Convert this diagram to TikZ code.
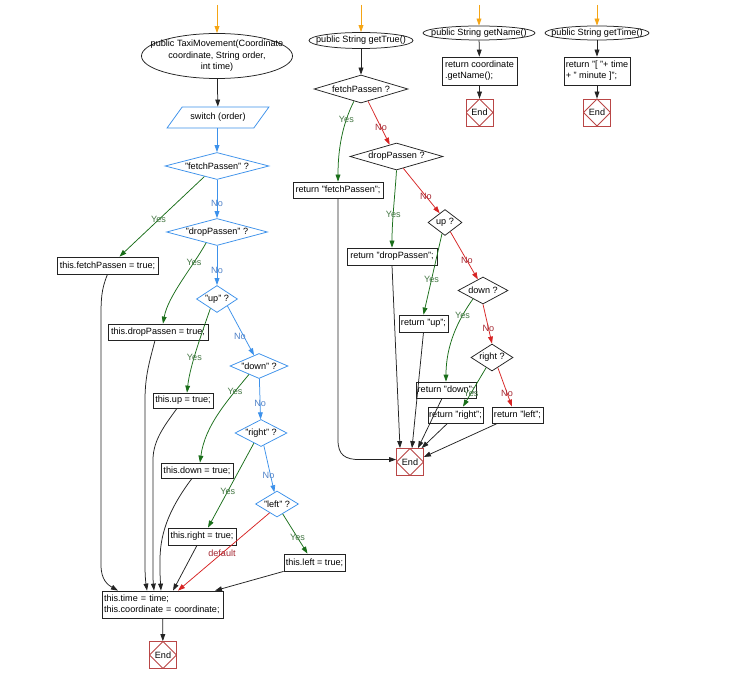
\documentclass[tikz,border=0pt]{standalone}
\usepackage{fontspec}
\setmainfont{Liberation Sans}
\usetikzlibrary{arrows.meta,shapes.geometric}

\definecolor{flowblue}{RGB}{60,145,235}
\definecolor{flowgreen}{RGB}{25,110,25}
\definecolor{flowred}{RGB}{215,35,35}
\definecolor{startorange}{RGB}{245,165,20}
\definecolor{endred}{RGB}{185,70,70}
\definecolor{yestext}{RGB}{70,120,70}
\definecolor{notextblue}{RGB}{80,130,200}
\definecolor{notextred}{RGB}{165,40,50}
\definecolor{linegray}{RGB}{35,35,35}

\begin{document}
\begin{tikzpicture}[x=1pt,y=-1pt,
  every node/.style={font=\fontsize{9.1}{11.5}\selectfont, inner sep=1pt},
  arrowtip/.style={-{Triangle[length=7pt,width=4.8pt]}, line width=0.75pt},
  flow/.style={arrowtip, draw=linegray},
  startarrow/.style={arrowtip, draw=startorange},
  blueflow/.style={arrowtip, draw=flowblue},
  greenflow/.style={arrowtip, draw=flowgreen},
  redflow/.style={arrowtip, draw=flowred},
  yeslbl/.style={text=yestext},
  nolblb/.style={text=notextblue},
  nolblr/.style={text=notextred},
  deflbl/.style={text=notextred},
  stmt/.style={rectangle, draw=linegray, line width=0.75pt, fill=white, minimum height=16pt},
  entryoval/.style={ellipse, draw=linegray, line width=0.75pt, fill=white, inner xsep=-20pt, inner ysep=-2pt},
  decbox/.style={diamond, fill=white, line width=0.75pt, inner sep=-0.5pt},
  bluedec/.style={decbox, draw=flowblue},
  blackdec/.style={decbox, draw=linegray},
  iobox/.style={trapezium, trapezium left angle=41, trapezium right angle=139,
    trapezium stretches=true, draw=flowblue, line width=0.75pt, fill=white},
  endbox/.style={rectangle, draw=endred, line width=0.75pt, fill=white,
    minimum size=27pt, inner sep=0pt,
    path picture={\draw[endred, line width=0.75pt]
      (path picture bounding box.north) -- (path picture bounding box.east) --
      (path picture bounding box.south) -- (path picture bounding box.west) -- cycle;}}
]
\fill[white] (0,0) rectangle (745,679);
\useasboundingbox (0,0) rectangle (745,679);

% ---------- constructor TaxiMovement ----------
\coordinate (s1) at (217,5);
\node[entryoval, minimum width=151pt, minimum height=45pt, align=center] (e1) at (217,56)
  {public TaxiMovement(Coordinate\\coordinate, String order,\\int time)};
\node[iobox, minimum width=102pt, minimum height=21pt] (sw) at (218,117.5) {switch (order)};
\node[bluedec, minimum width=104pt, minimum height=27pt, aspect=3.85] (d1) at (217,166) {"fetchPassen" ?};
\node[bluedec, minimum width=101pt, minimum height=27pt, aspect=3.74] (d2) at (217,232) {"dropPassen" ?};
\node[bluedec, minimum width=41pt, minimum height=27pt, aspect=1.52] (d3) at (217,299) {"up" ?};
\node[bluedec, minimum width=58pt, minimum height=25pt, aspect=2.32] (d4) at (259,366) {"down" ?};
\node[bluedec, minimum width=52pt, minimum height=27pt, aspect=1.93] (d5) at (261,433) {"right" ?};
\node[bluedec, minimum width=43pt, minimum height=26pt, aspect=1.65] (d6) at (277,504) {"left" ?};

\node[stmt, minimum width=101pt, minimum height=17pt] (b1) at (107.5,265.5) {this.fetchPassen = true;};
\node[stmt, minimum width=100pt] (b2) at (158,332) {this.dropPassen = true;};
\node[stmt, minimum width=60pt, minimum height=15pt] (b3) at (183,400.5) {this.up = true;};
\node[stmt, minimum width=72pt, minimum height=15pt] (b4) at (197,470.5) {this.down = true;};
\node[stmt, minimum width=68pt, minimum height=17pt] (b5) at (202,536.5) {this.right = true;};
\node[stmt, minimum width=61pt, minimum height=17pt] (b6) at (314.5,562.5) {this.left = true;};
\node[stmt, minimum width=121pt, minimum height=27pt, text width=117pt, align=left,
  font=\fontsize{9.1}{11}\selectfont] (fin) at (162.5,604.5)
  {this.time = time;\\this.coordinate = coordinate;};
\node[endbox] (end1) at (163,655) {End};

\draw[startarrow] (s1) -- (e1);
\draw[flow] (e1) -- (sw);
\draw[blueflow] (sw.south -| d1.north) -- (d1);
\draw[blueflow] (d1) -- node[nolblb, pos=0.62] {No} (d2);
\draw[blueflow] (d2) -- node[nolblb, pos=0.62] {No} (d3);
\draw[blueflow] (d3.south east) -- node[nolblb, pos=0.62, xshift=-4pt] {No} (d4.115);
\draw[blueflow] (d4) -- node[nolblb, pos=0.62] {No} (d5);
\draw[blueflow] (d5) -- node[nolblb, pos=0.64, xshift=-2pt] {No} (d6);

\draw[greenflow] (d1.-140) -- node[yeslbl, pos=0.54] {Yes} ([xshift=12pt]b1.north);
\draw[greenflow] (d2.-135) .. controls (192,268) and (168,296) .. node[yeslbl, pos=0.25] {Yes} ([xshift=5pt]b2.north);
\draw[greenflow] (d3.-125) .. controls (203,330) and (190,365) .. node[yeslbl, pos=0.6] {Yes} ([xshift=4pt]b3.north);
\draw[greenflow] (d4.-140) .. controls (228,400) and (205,425) .. node[yeslbl, pos=0.22] {Yes} ([xshift=3pt]b4.north);
\draw[greenflow] (d5.-125) -- node[yeslbl, pos=0.57] {Yes} ([xshift=6pt]b5.north);
\draw[greenflow] (d6.-60) -- node[yeslbl, pos=0.6] {Yes} ([xshift=-7pt]b6.north);
\draw[redflow] (d6.-130) -- node[deflbl, pos=0.52] {default} ([xshift=15.5pt]fin.north);

\draw[flow] (b1.south) .. controls (101,290) and (101,300) .. (101,320) -- (101,565)
  .. controls (101,580) and (108,585) .. ([xshift=-44.5pt]fin.north);
\draw[flow] ([xshift=-3pt]b2.south) .. controls (150,360) and (145,375) .. (145,400) -- (145,565)
  .. controls (145,578) and (146,584) .. ([xshift=-15.5pt]fin.north);
\draw[flow] ([xshift=-6pt]b3.south) .. controls (165,425) and (153,440) .. (153,460) -- (153,570)
  .. controls (153,580) .. ([xshift=-8.5pt]fin.north);
\draw[flow] ([xshift=-5pt]b4.south) .. controls (172,505) and (160,530) .. (160,560)
  .. controls (160,575) .. ([xshift=-1.5pt]fin.north);
\draw[flow] ([xshift=-5pt]b5.south) -- ([xshift=10.5pt]fin.north);
\draw[flow] (b6.south west) -- ([xshift=52.5pt]fin.north);
\draw[flow] (fin) -- (end1);

% ---------- getTrue() ----------
\coordinate (s2) at (361,5);
\node[entryoval, minimum width=104pt, minimum height=16pt] (e2) at (361,40.5) {public String getTrue()};
\node[blackdec, minimum width=94pt, minimum height=28pt, aspect=3.36] (m1) at (361,89) {fetchPassen ?};
\node[blackdec, minimum width=93pt, minimum height=27pt, aspect=3.44] (m2) at (396.5,156.5) {dropPassen ?};
\node[blackdec, minimum width=34pt, minimum height=26pt, aspect=1.31] (m3) at (445,222.5) {up ?};
\node[blackdec, minimum width=50pt, minimum height=27pt, aspect=1.85] (m4) at (483,290.5) {down ?};
\node[blackdec, minimum width=42pt, minimum height=27pt, aspect=1.56] (m5) at (492,357.5) {right ?};

\node[stmt, minimum width=90pt] (r1) at (338,190) {return "fetchPassen";};
\node[stmt, minimum width=90pt, minimum height=17pt] (r2) at (392,256.5) {return "dropPassen";};
\node[stmt, minimum width=49pt, minimum height=17pt] (r3) at (423.5,323.5) {return "up";};
\node[stmt, minimum width=60pt] (r4) at (446,390) {return "down";};
\node[stmt, minimum width=55pt] (r5) at (455.5,415) {return "right";};
\node[stmt, minimum width=51pt] (r6) at (517.5,415) {return "left";};
\node[endbox] (end2) at (410,462) {End};

\draw[startarrow] (s2) -- (e2);
\draw[flow] (e2) -- (m1);
\draw[greenflow] (m1.-120) .. controls (342,125) and (338,150) .. node[yeslbl, pos=0.25] {Yes} (r1.north);
\draw[redflow] (m1.-60) -- node[nolblr, pos=0.6] {No} (m2.120);
\draw[greenflow] (m2.south) .. controls (395,195) and (392,220) .. node[yeslbl, pos=0.58] {Yes} (r2.north);
\draw[redflow] (m2.-60) -- node[nolblr, pos=0.62] {No} (m3.120);
\draw[greenflow] (m3.-105) -- node[yeslbl, pos=0.57] {Yes} (r3.north);
\draw[redflow] (m3.-60) -- node[nolblr, pos=0.6] {No} (m4.115);
\draw[greenflow] (m4.-140) .. controls (458,320) and (446,345) .. node[yeslbl, pos=0.25] {Yes} (r4.north);
\draw[redflow] (m4.south) -- node[nolblr, pos=0.6] {No} (m5.north);
\draw[greenflow] (m5.-120) -- node[yeslbl, pos=0.65] {Yes} ([xshift=7.5pt]r5.north);
\draw[redflow] (m5.-60) -- node[nolblr, pos=0.65] {No} ([xshift=-5.5pt]r6.north);

\draw[flow] (r1.south) -- (338,440) .. controls (338,455) and (345,459.6) .. (360,459.6) -- (end2.170);
\draw[flow] (r2.south) -- ([xshift=-10pt]end2.north);
\draw[flow] (r3.south) -- ([xshift=2pt]end2.north);
\draw[flow] ([xshift=-4pt]r4.south) -- ([xshift=8pt]end2.north);
\draw[flow] ([xshift=-8pt]r5.south) -- (end2.50);
\draw[flow] ([xshift=-20pt]r6.south) -- (end2.20);

% ---------- getName() ----------
\coordinate (s3) at (479,5);
\node[entryoval, minimum width=112pt, minimum height=14pt] (e3) at (479,33) {public String getName()};
\node[stmt, minimum width=75pt, minimum height=28pt, align=left, font=\fontsize{9.1}{11}\selectfont]
  (n1) at (479.5,71) {return coordinate\\.getName();};
\node[endbox] (end3) at (479.5,112.5) {End};
\draw[startarrow] (s3) -- (e3);
\draw[flow] (e3) -- (n1);
\draw[flow] (n1) -- (end3);

% ---------- getTime() ----------
\coordinate (s4) at (597,5);
\node[entryoval, minimum width=104pt, minimum height=14pt] (e4) at (597,33) {public String getTime()};
\node[stmt, minimum width=66pt, minimum height=28pt, align=left, font=\fontsize{9.1}{11}\selectfont]
  (n2) at (597,71) {return "[ "+ time\\+ " minute ]";};
\node[endbox] (end4) at (597,112.5) {End};
\draw[startarrow] (s4) -- (e4);
\draw[flow] (e4) -- (n2);
\draw[flow] (n2) -- (end4);
\end{tikzpicture}
\end{document}
